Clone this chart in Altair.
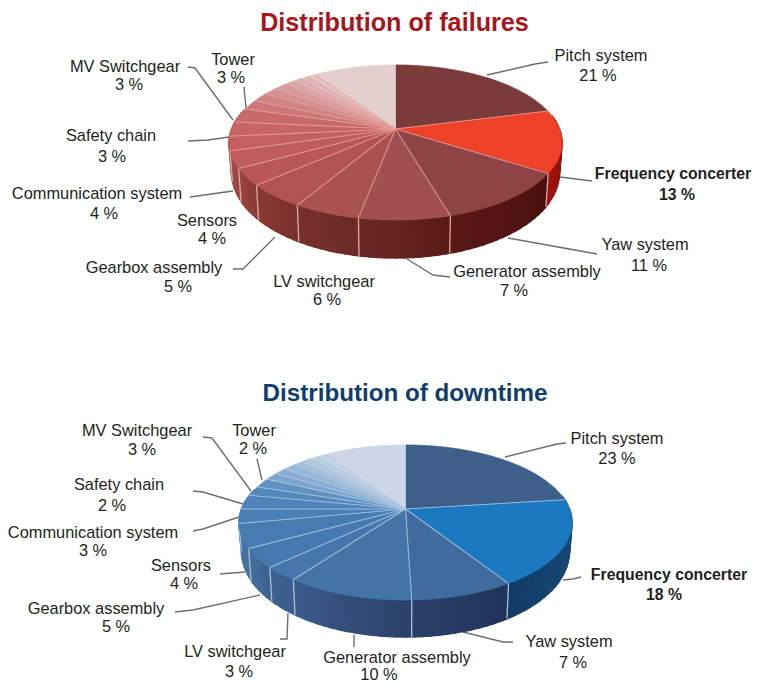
import numpy as np
import pandas as pd
import altair as alt

CATEGORIES = ["Pitch system", "Frequency concerter", "Yaw system", "Generator assembly",
              "LV switchgear", "Gearbox assembly", "Sensors", "Communication system",
              "Safety chain", "MV Switchgear", "Tower"]
LABELS_FAIL = [21, 13, 11, 7, 6, 5, 4, 4, 3, 3, 3]
LABELS_DOWN = [23, 18, 7, 10, 3, 5, 4, 3, 2, 3, 2]

# slice shares as drawn in the picture (the last ones are the unlabelled fading slices)
SHARES_FAIL = [21, 13, 11.5, 7.5, 5.5, 5, 3.5, 3.5, 3, 3, 3, 2, 2, 1.5, 1.5, 1, 1, 1, 1, 9.5]
SHARES_DOWN = [23, 18, 8.5, 10.5, 3, 4, 5, 3, 3, 2, 2, 1.5, 1.5, 1.5, 1, 1, 1, 1, 9.5]

TOP_FAIL = ["#7c3b3b", "#ef4028", "#8e4344", "#a05050", "#a85252", "#b25353", "#b95757", "#bf5c5c",
            "#c46060", "#c76464", "#c96a6a", "#cd7878", "#d08484", "#d39090", "#d69c9c", "#d9a8a8",
            "#dcb2b2", "#dfbcbc", "#e1c4c4", "#e4cfcf"]
TOP_DOWN = ["#3e5f8a", "#1b79bf", "#3f6b9e", "#4473a6", "#4577ac", "#4579b0", "#477cb3", "#4a80b8",
            "#4e84bb", "#5389bd", "#5f92c2", "#7ba3cc", "#8aaed2", "#98b7d6", "#a6c0da", "#b2c8de",
            "#bcd0e2", "#c4d4e4", "#ccd6e6"]

# wall shading: (angle in degrees clockwise from the top, colour)
WALL_FAIL = [(80, "#7a0c08"), (122.3, "#a3120c"), (122.4, "#4a0f0d"), (164, "#591a18"), (192, "#6c2a27"),
             (211, "#7a302c"), (229, "#8b3a37"), (243, "#9c4744"), (285, "#ad5653")]
WALL_DOWN = [(80, "#1d5485"), (147.5, "#123c66"), (147.6, "#20345a"), (178, "#2b4068"), (216, "#3b5c8c"),
             (228, "#3f628f"), (242, "#45709f"), (285, "#4c78ab")]

# projective ellipse of each pie (apex, half axes, perspective)
PIE_FAIL = dict(ax=395.5, ay=129.0, side=28, front=10)
PIE_DOWN = dict(ax=405.5, ay=509.0, side=27, front=10)
A, B, K = 164.0, 75.2, 0.174

def project(theta, pie):
    t = np.radians(theta)
    u, v = np.sin(t), np.cos(t)
    w = 1 + K * v
    return pie["ax"] + A * u / w, pie["ay"] - B * v / w, v

def wall_point(theta, pie):
    x, y, v = project(theta, pie)
    return pie["ax"] + (x - pie["ax"]) * 0.985, y + pie["side"] + pie["front"] * max(0.0, -v)

def hex2rgb(h):
    return np.array([int(h[i:i + 2], 16) for i in (1, 3, 5)], float)

def shade(theta, stops):
    th = [s[0] for s in stops]
    rgb = np.array([hex2rgb(s[1]) for s in stops])
    c = [np.interp(theta, th, rgb[:, i]) for i in range(3)]
    return "#%02x%02x%02x" % tuple(int(round(x)) for x in c)

def build_pie(shares, tops, stops, pie, name):
    cum = np.concatenate([[0], np.cumsum(shares)]) * 3.6
    top, walls, seps, wseps = [], [], [], []
    for k, col in enumerate(tops):
        a0, a1 = cum[k], cum[k + 1]
        pid = f"{name}-t{k}"
        top.append(dict(id=pid, i=0, x=pie["ax"], y=pie["ay"], c=col))
        for j, th in enumerate(np.linspace(a0, a1, max(3, int((a1 - a0) / 2) + 2))):
            x, y, _ = project(th, pie)
            top.append(dict(id=pid, i=j + 1, x=x, y=y, c=col))
    edges = np.arange(80, 285.01, 2.5)
    for n in range(len(edges) - 1):
        a0, a1 = edges[n], edges[n + 1]
        col = shade((a0 + a1) / 2, stops)
        pid = f"{name}-w{n:03d}"
        p = [project(a0, pie)[:2], project(a1, pie)[:2], wall_point(a1, pie), wall_point(a0, pie)]
        for i, (x, y) in enumerate(p):
            walls.append(dict(id=pid, i=i, x=x, y=y, c=col))
    for k, a in enumerate(cum[1:-1]):
        x, y, _ = project(a, pie)
        seps += [dict(id=f"{name}-s{k}", i=0, x=pie["ax"], y=pie["ay"]),
                 dict(id=f"{name}-s{k}", i=1, x=x, y=y)]
        if 90 < a < 262:
            x2, y2 = wall_point(a, pie)
            wseps += [dict(id=f"{name}-v{k}", i=0, x=x, y=y),
                      dict(id=f"{name}-v{k}", i=1, x=x2, y=y2)]
    return map(pd.DataFrame, (top, walls, seps, wseps))

# ---- annotation layout (picture pixels) ----
LEADERS_FAIL = [[(487, 75), (535, 64), (548, 62)], [(560, 177), (592, 181)], [(508, 238), (597, 254)],
                [(407, 259), (433, 275), (450, 277)], [(275, 237), (243, 269), (233, 269)],
                [(190, 197), (233, 191)], [(188, 141), (208, 140), (229, 137)],
                [(188, 67), (195, 68), (233, 120)], [(244, 87), (246, 108)]]
LEADERS_DOWN = [[(505, 457), (557, 444), (566, 443)], [(563, 580), (573, 579), (581, 577)],
                [(463, 632), (503, 642), (513, 642)], [(354, 635), (354, 647)],
                [(288, 613), (287, 639), (280, 639)], [(175, 612), (193, 610), (260, 595)],
                [(220, 574), (245, 572)], [(193, 531), (203, 529), (239, 517)],
                [(193, 491), (203, 492), (243, 504)], [(203, 437), (212, 438), (251, 491)],
                [(257, 459), (262, 480)]]
NAME_POS_FAIL = [(601, 56), (673, 174), (645, 245), (527, 272), (324, 282), (154, 268), (207, 221),
                 (97, 194), (111, 136), (125, 67), (233, 60)]
PCT_POS_FAIL = [(598, 76), (677, 195), (649, 266), (514, 291), (327, 300), (178, 287), (212, 239),
                (104, 214), (112, 157), (129, 85), (231, 78)]
NAME_POS_DOWN = [(617, 439), (669, 575), (569, 642), (397, 658), (235, 652), (96, 609), (181, 566),
                 (93, 533), (119, 485), (137, 431), (254, 431)]
PCT_POS_DOWN = [(617, 459), (664, 595), (573, 663), (379, 675), (239, 672), (116, 627), (184, 584),
                (93, 551), (112, 506), (142, 450), (253, 449)]

def text_rows(cats, vals, npos, ppos):
    rows = []
    for k, (c, v) in enumerate(zip(cats, vals)):
        rows.append(dict(x=npos[k][0], y=npos[k][1], t=c, b=k == 1))
        rows.append(dict(x=ppos[k][0], y=ppos[k][1], t=f"{v} %", b=k == 1))
    return rows

def leader_rows(leaders, name):
    rows = []
    for n, line in enumerate(leaders):
        for i, (x, y) in enumerate(line):
            rows.append(dict(id=f"{name}{n}", i=i, x=x, y=y))
    return pd.DataFrame(rows)

X = alt.X("x:Q", scale=alt.Scale(domain=[8, 752]), axis=None)
Y = alt.Y("y:Q", scale=alt.Scale(domain=[684, 8]), axis=None)

def polys(df, width=0.7):
    return alt.Chart(df).mark_line(interpolate="linear-closed", strokeWidth=width).encode(
        x=X, y=Y, detail="id:N", order="i:Q",
        fill=alt.Fill("c:N", scale=None), stroke=alt.Stroke("c:N", scale=None))

def lines(df, color, width, opacity=1.0):
    return alt.Chart(df).mark_line(color=color, strokeWidth=width, opacity=opacity).encode(
        x=X, y=Y, detail="id:N", order="i:Q")

tf, wf, sf, vf = build_pie(SHARES_FAIL, TOP_FAIL, WALL_FAIL, PIE_FAIL, "f")
td, wd, sd, vd = build_pie(SHARES_DOWN, TOP_DOWN, WALL_DOWN, PIE_DOWN, "d")

labels = pd.DataFrame(text_rows(CATEGORIES, LABELS_FAIL, NAME_POS_FAIL, PCT_POS_FAIL)
                      + text_rows(CATEGORIES, LABELS_DOWN, NAME_POS_DOWN, PCT_POS_DOWN))
FONT = "Liberation Sans"
regular = alt.Chart(labels[~labels.b]).mark_text(font=FONT, fontSize=16.4, color="#231f20", align="center",
                                                 baseline="middle").encode(x=X, y=Y, text="t:N")
bold = alt.Chart(labels[labels.b]).mark_text(font=FONT, fontSize=15.8, fontWeight="bold", color="#231f20",
                                             align="center", baseline="middle").encode(x=X, y=Y, text="t:N")
title_f = alt.Chart(pd.DataFrame([dict(x=394.5, y=23, t="Distribution of failures")])).mark_text(
    font=FONT, fontSize=25.2, fontWeight="bold", align="center", baseline="middle", color="#a6161b"
).encode(x=X, y=Y, text="t:N")
title_d = alt.Chart(pd.DataFrame([dict(x=405, y=394, t="Distribution of downtime")])).mark_text(
    font=FONT, fontSize=24.2, fontWeight="bold", align="center", baseline="middle", color="#0f3d6e"
).encode(x=X, y=Y, text="t:N")

chart = alt.layer(
    lines(leader_rows(LEADERS_FAIL, "lf"), "#6d6e71", 1.4),
    lines(leader_rows(LEADERS_DOWN, "ld"), "#6d6e71", 1.4),
    polys(wf, 1.4), polys(wd, 1.4),
    lines(vf, "#d9a9a6", 1.3), lines(vd, "#a9bfd8", 1.3),
    polys(tf), polys(td),
    lines(sf, "#e59c98", 1.1, 0.85), lines(sd, "#a9c6e2", 1.1, 0.85),
    regular, bold, title_f, title_d,
).properties(width=744, height=676, padding=0, autosize=alt.AutoSizeParams(type="none")
).configure_view(stroke=None)

chart.save("out.html", embed_options={"renderer": "svg", "actions": False})
